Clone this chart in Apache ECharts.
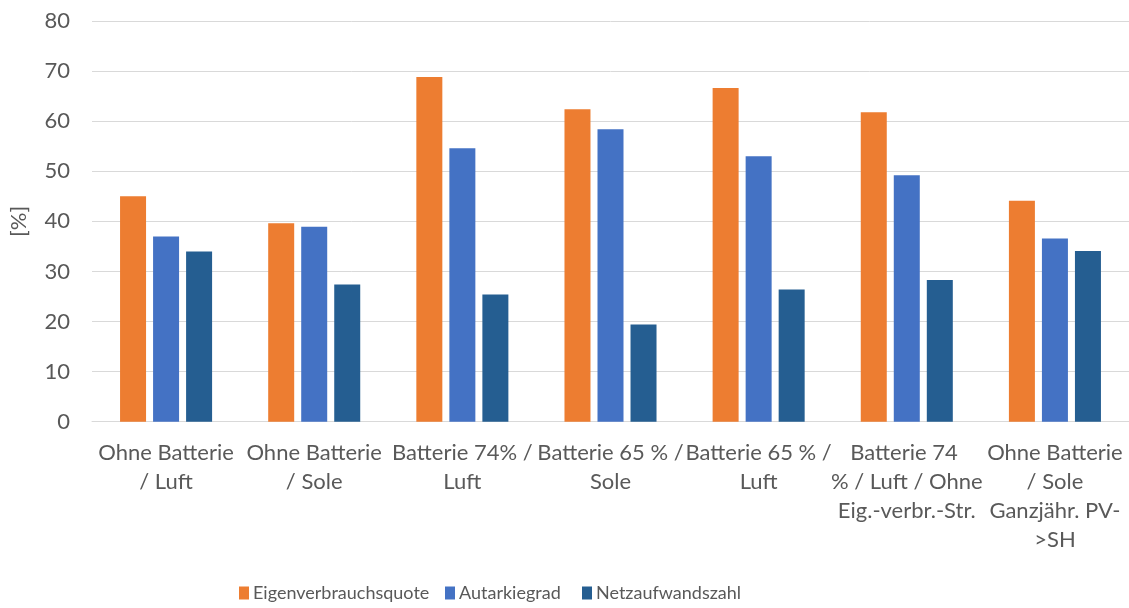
<!DOCTYPE html>
<html><head><meta charset="utf-8">
<script src="https://cdn.jsdelivr.net/npm/echarts@6/dist/echarts.min.js"></script>
<style>html,body{margin:0;padding:0;background:#fff}#c{width:1129px;height:608px}</style>
</head><body><div id="c"></div>
<script>
const categories = [
  "Ohne Batterie\n/ Luft",
  "Ohne Batterie\n/ Sole",
  "Batterie 74% /\nLuft",
  "Batterie 65 % /\nSole",
  "Batterie 65 % /\nLuft",
  "Batterie 74 \n% / Luft / Ohne\nEig.-verbr.-Str.",
  "Ohne Batterie\n/ Sole\nGanzjähr. PV-\n>SH"
];
const eigenverbrauchsquote = [45.0, 39.6, 68.8, 62.4, 66.6, 61.8, 44.1];
const autarkiegrad = [37.0, 38.9, 54.6, 58.4, 53.0, 49.2, 36.6];
const netzaufwandszahl = [34.0, 27.4, 25.4, 19.4, 26.4, 28.3, 34.1];
const seriesNames = ["Eigenverbrauchsquote", "Autarkiegrad", "Netzaufwandszahl"];
const yTicks = [0, 10, 20, 30, 40, 50, 60, 70, 80];

const FONT = "Lato";
const TXT = "#595959";
const chart = echarts.init(document.getElementById('c'));
const mk = (name, data, color) => ({
  name, type: 'bar', data, barWidth: 26, barGap: '27%',
  itemStyle: { color }
});
const legendLefts = [239, 445, 582];
chart.setOption({
  animation: false,
  textStyle: { fontFamily: FONT },
  grid: { left: 90.7, top: 21, width: 1043, height: 400.7 },
  legend: seriesNames.map((n, i) => ({
    left: legendLefts[i], top: 584, padding: 0,
    itemWidth: 10, itemHeight: 13,
    icon: 'rect',
    textStyle: { color: TXT, fontSize: 18, fontFamily: FONT, padding: [0, 0, 0, -1] },
    data: [n]
  })),
  xAxis: {
    type: 'category', data: categories,
    axisLine: { lineStyle: { color: '#D9D9D9', width: 1 } },
    axisTick: { show: false },
    axisLabel: { color: TXT, fontSize: 22, lineHeight: 29, margin: 17, interval: 0, fontFamily: FONT }
  },
  yAxis: {
    type: 'value', min: 0, max: 80, interval: 10,
    name: '[%]', nameLocation: 'middle', nameGap: 62, nameRotate: 90,
    nameTextStyle: { color: TXT, fontSize: 22, fontFamily: FONT },
    axisLine: { show: false }, axisTick: { show: false },
    axisLabel: { color: TXT, fontSize: 22, margin: 22, fontFamily: FONT,
      formatter: v => yTicks.includes(v) ? String(v) : '' },
    splitLine: { lineStyle: { color: '#D9D9D9', width: 1 } }
  },
  series: [
    mk(seriesNames[0], eigenverbrauchsquote, '#ED7D31'),
    mk(seriesNames[1], autarkiegrad, '#4472C4'),
    mk(seriesNames[2], netzaufwandszahl, '#255E91')
  ]
});
</script></body></html>
